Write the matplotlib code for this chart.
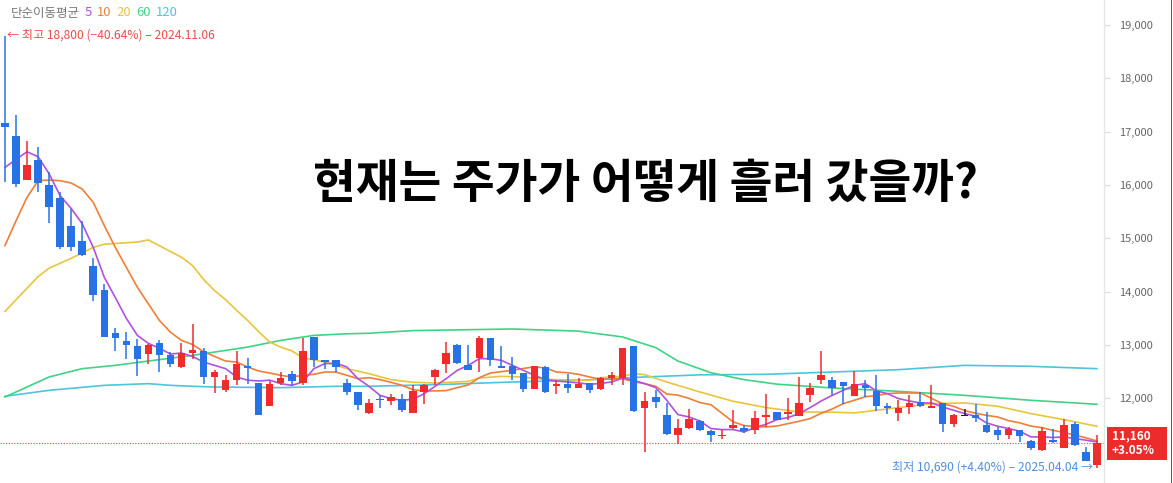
import matplotlib
matplotlib.use('Agg')
import matplotlib.pyplot as plt
from matplotlib.patches import Rectangle
from matplotlib.ticker import FuncFormatter
import numpy as np

plt.rcParams['font.family'] = ['Noto Sans CJK KR', 'DejaVu Sans']

# ---------------- data ----------------
opens = [17170, 16923, 16100, 16468, 15993, 15756, 15225, 14944, 14477, 14022,
         13229, 13073, 12973, 12837, 13036, 12818, 12587, 12855, 12880, 12399,
         12163, 12337, 12605, 12293, 11850, 12287, 12450, 12287, 13148, 12711,
         12711, 12294, 12119, 11720, 11995, 11950, 11982, 11726, 12119, 12399,
         12650, 13005, 12630, 12761, 13136, 12605, 12605, 12474, 12181, 12587,
         12225, 12275, 12200, 12293, 12181, 12387, 12387, 12973, 11820, 12025,
         11682, 11308, 11452, 11576, 11383, 11296, 11452, 11445, 11402, 11651,
         11744, 11713, 11664, 12056, 12337, 12337, 12306, 12038, 12243, 12138,
         11857, 11726, 11838, 11932, 11826, 11920, 11526, 11670, 11695, 11495,
         11414, 11321, 11402, 11196, 11040, 11227, 11059, 11526, 10990, 10750]
highs = [18800, 17310, 16830, 16704, 16236, 15861, 15550, 15332, 14633, 14147,
         13323, 13241, 13118, 13024, 13086, 12867, 13036, 13398, 12942, 12524,
         12431, 12880, 12761, 12293, 12318, 12493, 12506, 13136, 13148, 12724,
         12724, 12356, 12119, 11995, 12069, 12088, 12088, 12243, 12275, 12556,
         13055, 13024, 13005, 13161, 13136, 12980, 12774, 12474, 12610, 12600,
         12337, 12460, 12387, 12293, 12400, 12493, 12950, 12990, 12119, 12150,
         11913, 11620, 11794, 11601, 11402, 11414, 11776, 11495, 11763, 12075,
         11744, 12013, 12400, 12294, 12880, 12400, 12306, 12506, 12350, 12431,
         11913, 11976, 12056, 12119, 12243, 11920, 11714, 11807, 11901, 11744,
         11464, 11464, 11402, 11215, 11464, 11433, 11620, 11557, 11080, 11310]
lows = [16050, 15955, 16090, 15861, 15289, 14802, 14770, 14677, 13834, 13147,
        12885, 12743, 12412, 12650, 12493, 12587, 12568, 12743, 12262, 12100,
        12119, 12243, 12262, 11682, 11850, 12243, 12225, 12243, 12587, 12556,
        12493, 12069, 11789, 11701, 11826, 11870, 11744, 11726, 11888, 12243,
        12474, 12650, 12537, 12493, 12605, 12560, 12350, 12119, 12170, 12100,
        12075, 12106, 12200, 12100, 12163, 12243, 12243, 11750, 10995, 11826,
        11321, 11152, 11433, 11389, 11183, 11246, 11433, 11352, 11327, 11464,
        11589, 11601, 11664, 11932, 12275, 12056, 11901, 12038, 12025, 11757,
        11701, 11576, 11713, 11838, 11826, 11371, 11464, 11664, 11558, 11358,
        11215, 11233, 11183, 11040, 11015, 11165, 11059, 11102, 10820, 10690]
closes = [17080, 16019, 16380, 16037, 15594, 14832, 14832, 14690, 13928, 13147,
          13129, 12992, 12743, 12992, 12805, 12650, 12855, 12898, 12399, 12493,
          12337, 12649, 12568, 11690, 12268, 12387, 12324, 12880, 12711, 12674,
          12587, 12119, 11870, 11920, 11963, 12025, 11776, 12138, 12256, 12524,
          12855, 12661, 12537, 13136, 12711, 12575, 12450, 12181, 12599, 12119,
          12275, 12200, 12275, 12163, 12387, 12431, 12936, 11763, 11945, 11932,
          11339, 11445, 11620, 11402, 11308, 11321, 11495, 11383, 11639, 11695,
          11589, 11744, 11920, 12200, 12431, 12200, 12225, 12262, 12200, 11851,
          11820, 11820, 11920, 11851, 11857, 11514, 11695, 11670, 11639, 11371,
          11308, 11433, 11290, 11059, 11383, 11183, 11495, 11121, 10830, 11160]

ma5_idx = list(range(100))
ma5_val = [16330, 16480, 16623, 16530, 16210, 15800, 15560, 15275, 14830, 14270,
           13890, 13500, 13180, 13030, 12940, 12830, 12850, 12786, 12680, 12618,
           12556, 12400, 12340, 12325, 12340, 12275, 12243, 12306, 12556, 12650,
           12661, 12587, 12368, 12225, 12056, 11995, 11963, 11982, 12088, 12225,
           12368, 12524, 12618, 12743, 12743, 12711, 12618, 12524, 12431, 12350,
           12325, 12306, 12290, 12262, 12280, 12306, 12381, 12337, 12275, 12200,
           11963, 11695, 11651, 11576, 11433, 11414, 11414, 11370, 11452, 11514,
           11601, 11639, 11714, 11826, 11950, 12056, 12150, 12243, 12275, 12138,
           12088, 11995, 11950, 11913, 11913, 11838, 11776, 11714, 11664, 11539,
           11476, 11433, 11383, 11277, 11277, 11265, 11277, 11246, 11215, 11183]

ma10_idx = list(range(100))
ma10_val = [14865, 15330, 15770, 16080, 16093, 16080, 16037, 15924, 15675, 15240,
            14830, 14455, 14083, 13770, 13460, 13240, 13086, 13010, 12875, 12786,
            12699, 12680, 12587, 12512, 12474, 12431, 12400, 12431, 12450, 12493,
            12493, 12431, 12368, 12387, 12350, 12300, 12243, 12162, 12138, 12138,
            12145, 12200, 12250, 12387, 12474, 12500, 12524, 12560, 12590, 12570,
            12493, 12480, 12450, 12400, 12356, 12360, 12368, 12310, 12275, 12225,
            12080, 12060, 12000, 11920, 11880, 11720, 11560, 11490, 11470, 11464,
            11480, 11526, 11570, 11620, 11720, 11800, 11900, 11963, 12030, 12050,
            12088, 12100, 12100, 12100, 12000, 11900, 11850, 11770, 11720, 11680,
            11650, 11580, 11540, 11480, 11450, 11400, 11360, 11310, 11260, 11200]

ma20_idx = [0, 3, 4, 6, 8, 9, 12, 13, 16, 17, 18, 19, 20, 21, 22, 23, 24, 25, 26,
            27, 29, 31, 33, 35, 37, 39, 42, 43, 45, 47, 48, 50, 53, 54, 56, 57,
            58, 60, 63, 66, 69, 72, 75, 77, 79, 81, 84, 87, 90, 93, 96, 99]
ma20_val = [13630, 14283, 14440, 14625, 14830, 14890, 14930, 14970, 14645, 14490,
            14230, 14020, 13850, 13650, 13460, 13250, 13055, 12960, 12890, 12760,
            12680, 12556, 12462, 12350, 12300, 12287, 12318, 12380, 12412, 12400,
            12370, 12350, 12337, 12387, 12412, 12462, 12443, 12306, 12119, 11945,
            11826, 11744, 11740, 11726, 11776, 11826, 11901, 11913, 11851, 11714,
            11601, 11476]

ma60_idx = [0, 4, 7, 10, 13, 17, 18, 22, 25, 28, 31, 33, 37, 46, 52, 56, 59, 61,
            64, 67, 70, 75, 81, 87, 93, 99]
ma60_val = [12025, 12400, 12556, 12618, 12699, 12805, 12836, 12961, 13086, 13180,
            13210, 13220, 13270, 13300, 13260, 13150, 12950, 12700, 12480, 12350,
            12265, 12194, 12131, 12056, 11963, 11888]

ma120_idx = [0, 4, 9, 13, 15, 17, 19, 25, 30, 33, 40, 46, 52, 58, 63, 69, 75, 81,
             87, 93, 99]
ma120_val = [12038, 12150, 12243, 12275, 12243, 12225, 12212, 12200, 12225, 12225,
             12262, 12306, 12337, 12400, 12440, 12450, 12493, 12537, 12618, 12600,
             12556]

ma_periods = ['5', '10', '20', '60', '120']
ma_colors = ['#b251e0', '#ee7e38', '#e8c53c', '#3fd386', '#4ec4de']

title = '현재는 주가가 어떻게 흘러 갔을까?'
legend_label = '단순이동평균'
high_note = '← 최고 18,800 (−40.64%) – 2024.11.06'
low_note = '최저 10,690 (+4.40%) – 2025.04.04 →'
last_price = 11160
last_price_text = '11,160'
last_change_text = '+3.05%'
y_ticks = [12000, 13000, 14000, 15000, 16000, 17000, 18000, 19000]

# ---------------- figure ----------------
W, H = 1173, 483
fig = plt.figure(figsize=(W / 100, H / 100), dpi=100)
fig.patch.set_facecolor('white')
ax = fig.add_axes([0, 0, 1104 / W, 1])
ax.set_facecolor('white')

RED = '#ef2b2b'
BLUE = '#2773e6'
n = len(closes)
idx = np.arange(n)
o = np.array(opens, float)
c = np.array(closes, float)
h = np.array(highs, float)
l = np.array(lows, float)
cols = [RED if cc > oo else (BLUE if cc < oo else '#222222') for oo, cc in zip(o, c)]

# moving averages (behind candles)
for (xi, yv), col in zip([(ma120_idx, ma120_val), (ma60_idx, ma60_val),
                          (ma20_idx, ma20_val), (ma10_idx, ma10_val),
                          (ma5_idx, ma5_val)], ma_colors[::-1]):
    ax.plot(xi, yv, color=col, lw=1.2, zorder=2, solid_joinstyle='round')

ax.vlines(idx, l, h, colors=cols, lw=1.1, zorder=3)
bottoms = np.minimum(o, c)
heights = np.maximum(np.abs(c - o), 22)
ax.bar(idx, heights, bottom=bottoms, width=0.68, color=cols, zorder=4, linewidth=0)

ax.axhline(last_price, color='#f06060', lw=0.9, ls=(0, (1, 1.2)), zorder=1)

ax.set_xlim(-0.453, 99.64)
ax.set_ylim(10412, 19469)

for s in ['top', 'left', 'bottom']:
    ax.spines[s].set_visible(False)
ax.spines['right'].set_color('#e6e6e6')
ax.spines['right'].set_linewidth(1.0)
ax.set_xticks([])
ax.yaxis.tick_right()
ax.set_yticks(y_ticks)
ax.yaxis.set_major_formatter(FuncFormatter(lambda v, p: f'{int(v):,}'))
ax.tick_params(axis='y', direction='out', length=4, width=0.8, color='#dddddd',
               labelcolor='#666666', labelsize=8, pad=7)


def fx(x):
    return x / W


def fy(y):
    return 1 - y / H


# title
fig.text(fx(645), fy(184), title, ha='center', va='center', fontsize=33.5,
         fontweight='bold', color='#000000')

# legend of moving averages
fig.canvas.draw()
rend = fig.canvas.get_renderer()
t = fig.text(fx(11), fy(13), legend_label, ha='left', va='center', fontsize=9,
             color='#777777')
x_cur = t.get_window_extent(rend).x1 + 5
for lab, col in zip(ma_periods, ma_colors):
    tt = fig.text(x_cur / W, fy(13), lab, ha='left', va='center', fontsize=9.4,
                  color=col)
    x_cur = tt.get_window_extent(rend).x1 + 5

fig.text(fx(7), fy(35.5), high_note, ha='left', va='center', fontsize=8.7,
         color='#f04a4a')
fig.text(fx(1093), fy(467), low_note, ha='right', va='center', fontsize=8.7,
         color='#4f8fe0')

# last price badge
fig.patches.append(Rectangle((fx(1107), fy(460)), 60 / W, 33.5 / H,
                             transform=fig.transFigure, facecolor='#ec2b2b',
                             edgecolor='none', zorder=5))
fig.text(fx(1112), fy(435.5), last_price_text, ha='left', va='center', fontsize=8.5,
         color='white', fontweight='bold', zorder=6)
fig.text(fx(1112), fy(451), last_change_text, ha='left', va='center', fontsize=8.5,
         color='white', fontweight='bold', zorder=6)

# right red border
fig.patches.append(Rectangle((fx(1170.5), 0), 1.5 / W, 1, transform=fig.transFigure,
                             facecolor='#ee2222', edgecolor='none', zorder=5))

fig.savefig('out.png', dpi=100, facecolor='white')
